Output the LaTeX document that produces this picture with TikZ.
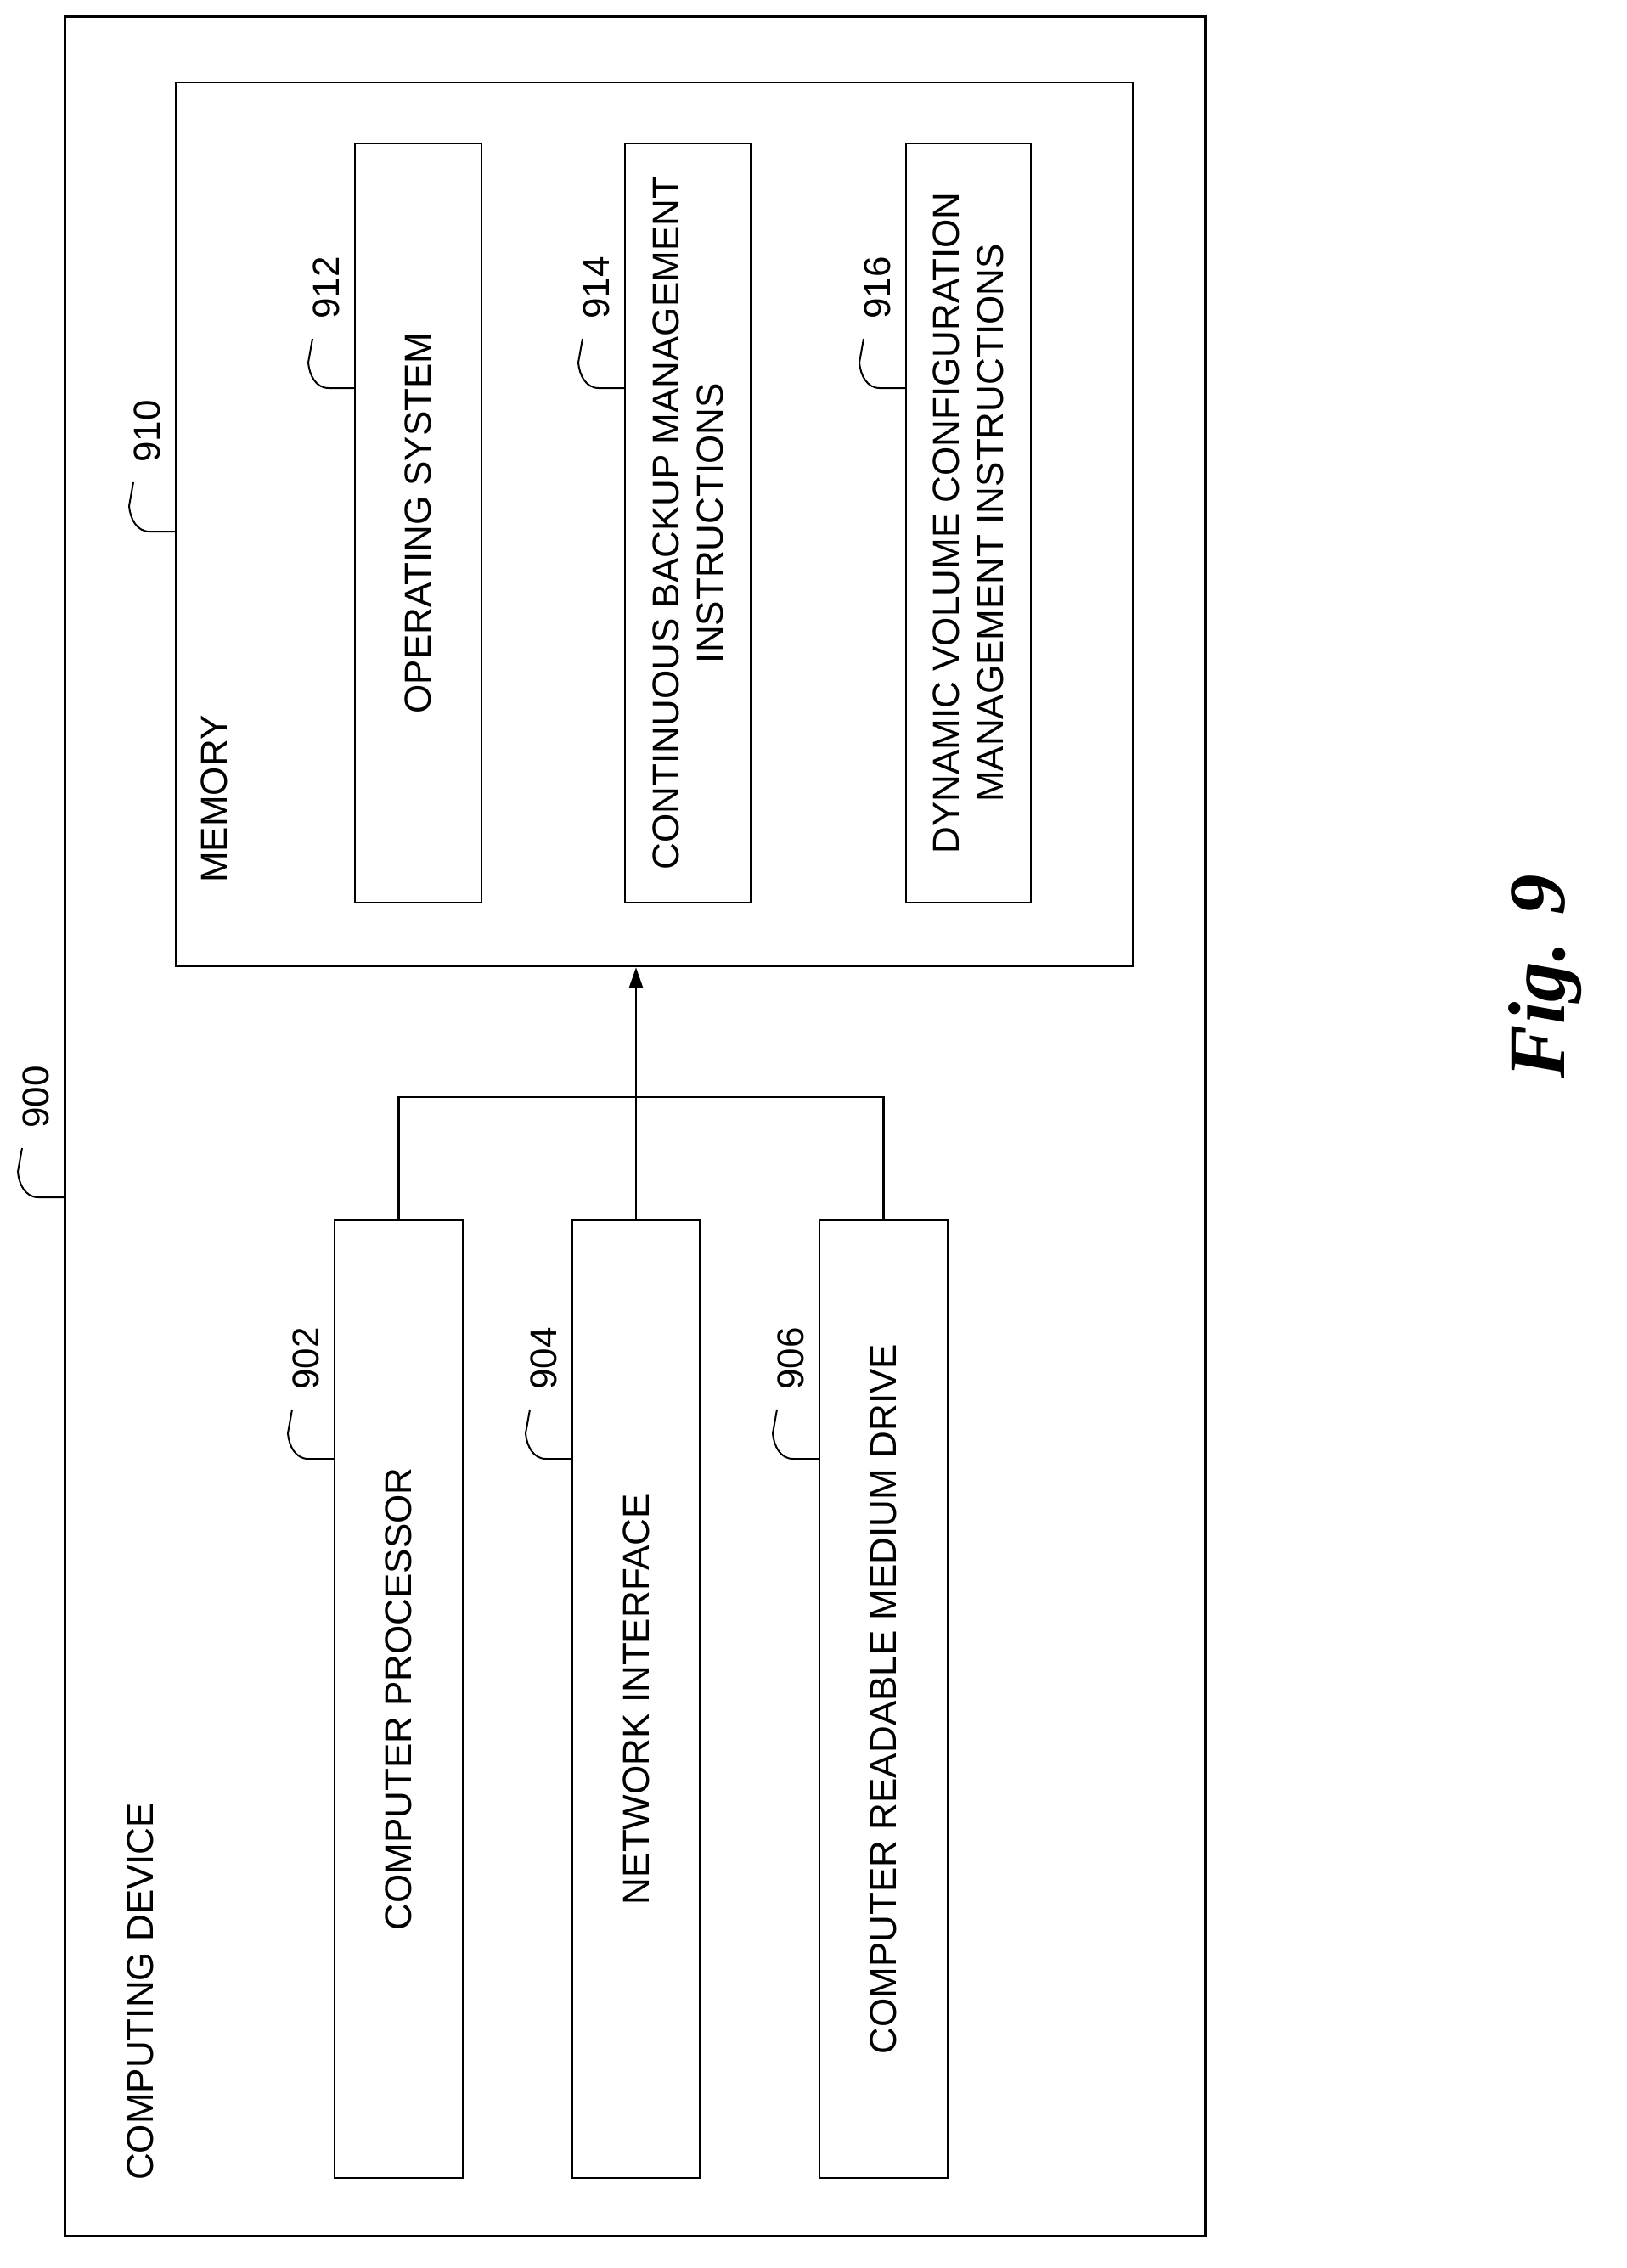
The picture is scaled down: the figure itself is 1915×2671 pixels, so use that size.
\documentclass[tikz,border=0pt]{standalone}
\usepackage{fontspec}
\setmainfont{Liberation Sans}
\newfontfamily\figfont{Liberation Serif}
\usetikzlibrary{arrows.meta}

\tikzset{
  box/.style={draw,line width=2.5pt,rotate=90,align=center,inner sep=0pt},
  lbl/.style={rotate=90,inner sep=0pt},
  lead/.style={line width=2pt}
}
\newcommand{\refmark}[2]{%
  \draw[lead] (#1) -- ++(-31,0) to[out=180,in=-85] ++(-24,30) -- ++(5,28);
  \path (#1) ++(-34,118) node[lbl] {#2};}

\begin{document}
\begin{tikzpicture}[x=1pt,y=1pt,font=\fontsize{44}{52}\selectfont]
\useasboundingbox (0,0) rectangle (1915,-2671);
% outer device and memory
\draw[line width=3pt] (76,-20) rectangle (1419,-2633);
\node[box,minimum width=1041pt,minimum height=1127pt] (mem) at (770.5,-617.5) {};
\node[lbl,anchor=west] (memtxt) at (252,-1040) {MEMORY};
\node[lbl,anchor=west] (devtxt) at (165,-2568) {COMPUTING DEVICE};

% memory contents
\node[box,minimum width=894pt,minimum height=149pt] (os) at (492.5,-616) {OPERATING SYSTEM};
\node[box,minimum width=894pt,minimum height=148pt] (cbm) at (810,-616) {CONTINUOUS BACKUP MANAGEMENT\\INSTRUCTIONS};
\node[box,minimum width=894pt,minimum height=147pt] (dvc) at (1140.5,-616) {DYNAMIC VOLUME CONFIGURATION\\MANAGEMENT INSTRUCTIONS};

% hardware
\node[box,minimum width=1128pt,minimum height=151pt] (cpu) at (469.5,-2001) {COMPUTER PROCESSOR};
\node[box,minimum width=1128pt,minimum height=150pt] (nic) at (749,-2001) {NETWORK INTERFACE};
\node[box,minimum width=1128pt,minimum height=151pt] (crm) at (1040.5,-2001) {COMPUTER READABLE MEDIUM DRIVE};

% bus
\coordinate (bus) at (749,-1292);
\draw[line width=2.5pt] (cpu.east) |- (bus) -| (crm.east);
\draw[line width=2.5pt,-{Triangle[length=24pt,width=16pt]}] (nic.east) -- (mem.west-|nic.east);

% reference numerals
\coordinate (r900) at (76,-1410);
\coordinate (r910) at (207,-626);
\coordinate (r912) at (418,-457);
\coordinate (r914) at (736,-457);
\coordinate (r916) at (1067,-457);
\coordinate (r902) at (394,-1718);
\coordinate (r904) at (674,-1718);
\coordinate (r906) at (965,-1718);
\refmark{r900}{900}
\refmark{r910}{910}
\refmark{r912}{912}
\refmark{r914}{914}
\refmark{r916}{916}
\refmark{r902}{902}
\refmark{r904}{904}
\refmark{r906}{906}

\node[lbl] (fig) at (1820,-1150) {\figfont\fontsize{95}{110}\selectfont\bfseries\itshape Fig. 9};
\end{tikzpicture}
\end{document}
